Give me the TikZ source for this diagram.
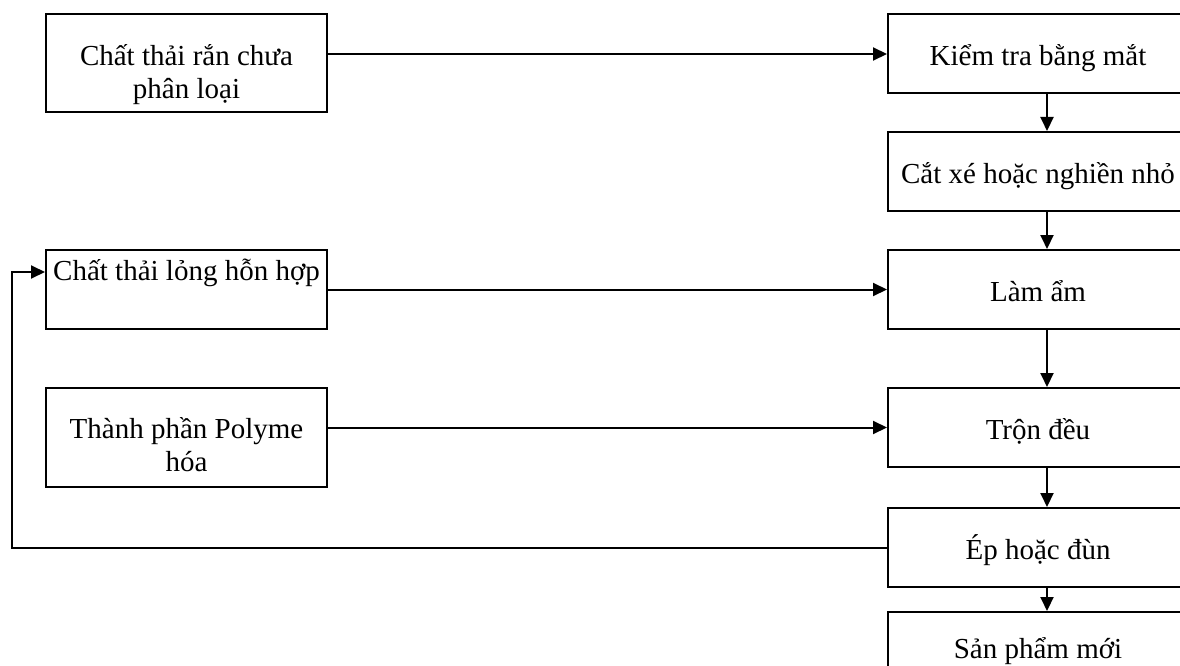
\documentclass[tikz,border=0pt]{standalone}
\usepackage{fontspec}
\setmainfont{Liberation Serif}
\usetikzlibrary{arrows.meta}

\tikzset{
  khoi/.style={draw, line width=2pt, inner sep=0pt, align=center,
    font=\fontsize{29}{33}\selectfont},
  khoitrai/.style={khoi, minimum width=281pt},
  khoiphai/.style={khoi, minimum width=300pt, text height=51pt, text depth=28pt},
  muiten/.style={line width=2pt, -{Triangle[length=14pt,width=13pt]}}
}

\begin{document}
\begin{tikzpicture}[x=1pt,y=-1pt]

\useasboundingbox (0,0) rectangle (1180,666);
\clip (0,0) rectangle (1180,666);
\fill[white] (0,0) rectangle (1180,666);

% Cột trái
\node[khoitrai, text height=85pt, text depth=13pt] (ran) at (186.5,63)
{Chất thải rắn chưa\\phân loại};

\node[khoitrai, text height=30pt, text depth=49pt] (long) at (186.5,289.5)
{Chất thải lỏng hỗn hợp};

\node[khoitrai, text height=83pt, text depth=16pt] (poly) at (186.5,437.5)
{Thành phần Polyme\\hóa};

% Cột phải
\node[khoiphai] (kiem) at (1038,54)
{Kiểm tra bằng mắt};

\node[khoiphai] (cat) at (1038,171.5)
{Cắt xé hoặc nghiền nhỏ};

\node[khoiphai] (am) at (1038,289.5)
{Làm ẩm};

\node[khoiphai] (tron) at (1038,427.5)
{Trộn đều};

\node[khoiphai] (ep) at (1038,547.5)
{Ép hoặc đùn};

\node[khoiphai, text height=46pt, text depth=33pt] (sp) at (1038,651.5)
{Sản phẩm mới};

% Mũi tên ngang
\draw[muiten] (kiem.west -| ran.east) -- (kiem.west);
\draw[muiten] (am.west -| long.east) -- (am.west);
\draw[muiten] (tron.west -| poly.east) -- (tron.west);

% Mũi tên dọc
\foreach \a/\b in {kiem/cat, cat/am, am/tron, tron/ep, ep/sp}
{
    \draw[muiten] ([xshift=9pt]\a.south) -- ([xshift=9pt]\b.north);
}

% Vòng lặp
\coordinate (vong) at (12,272);
\draw[muiten] (ep.west) -| (vong) -- (vong -| long.west);

\end{tikzpicture}
\end{document}
